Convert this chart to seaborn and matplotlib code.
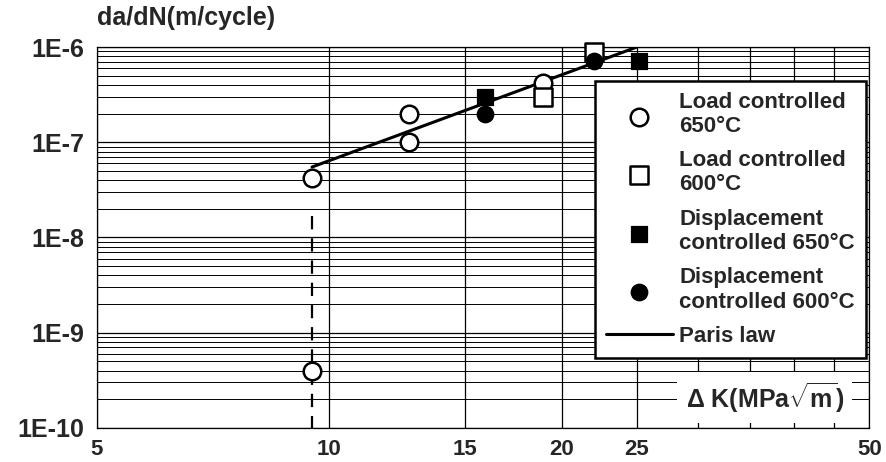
import pandas as pd
import seaborn as sns
import matplotlib.pyplot as plt
from matplotlib.ticker import FixedLocator, LogLocator, NullFormatter

# data
load650_dk = [9.5, 12.7, 12.7, 18.9, 9.5]
load650_dadn = [4.2e-8, 2.0e-7, 1.0e-7, 4.2e-7, 4.0e-10]
load600_dk = [18.9, 22.0]
load600_dadn = [3.0e-7, 8.8e-7]
disp650_dk = [15.9, 25.2]
disp650_dadn = [3.0e-7, 7.2e-7]
disp600_dk = [15.9, 22.0]
disp600_dadn = [2.0e-7, 7.2e-7]
paris_dk = [9.5, 25.0]
paris_dadn = [5.5e-8, 1.0e-6]
threshold_dk = [9.5, 9.5]
threshold_dadn = [1.7e-8, 1e-10]

x_ticks = [5, 10, 15, 20, 25, 30, 35, 40, 45, 50]
x_labels = ["5", "10", "15", "20", "25", "", "", "", "", "50"]
y_ticks = [1e-10, 1e-9, 1e-8, 1e-7, 1e-6]
y_labels = ["1E-10", "1E-9", "1E-8", "1E-7", "1E-6"]

sns.set_style("white")
plt.rcParams["font.family"] = ["Liberation Sans", "DejaVu Sans"]
plt.rcParams["font.weight"] = "bold"
plt.rcParams["mathtext.fontset"] = "custom"
plt.rcParams["mathtext.rm"] = "Liberation Sans:bold"
plt.rcParams["mathtext.bf"] = "Liberation Sans:bold"
plt.rcParams["mathtext.it"] = "Liberation Sans:bold"

fig = plt.figure(figsize=(8.87, 4.62), dpi=100)
ax = fig.add_axes([0.109, 0.074, 0.871, 0.824])
ax.set_xscale("log")
ax.set_yscale("log")

ax.plot(threshold_dk, threshold_dadn, color="black", lw=1.6, ls=(0, (6, 4)), zorder=3)
sns.lineplot(x=paris_dk, y=paris_dadn, ax=ax, color="black", lw=2.2, label="Paris law", zorder=4)
sns.scatterplot(x=load650_dk, y=load650_dadn, ax=ax, marker="o", s=160, facecolor="white",
                edgecolor="black", linewidth=1.8, label="Load controlled\n650°C", zorder=5,
                clip_on=False)
sns.scatterplot(x=load600_dk, y=load600_dadn, ax=ax, marker="s", s=160, facecolor="white",
                edgecolor="black", linewidth=1.8, label="Load controlled\n600°C", zorder=5,
                clip_on=False)
sns.scatterplot(x=disp650_dk, y=disp650_dadn, ax=ax, marker="s", s=120, color="black",
                edgecolor="black", label="Displacement\ncontrolled 650°C", zorder=6,
                clip_on=False)
sns.scatterplot(x=disp600_dk, y=disp600_dadn, ax=ax, marker="o", s=140, color="black",
                edgecolor="black", label="Displacement\ncontrolled 600°C", zorder=6,
                clip_on=False)

ax.set_xlim(5, 50)
ax.set_ylim(1e-10, 1e-6)
ax.xaxis.set_major_locator(FixedLocator(x_ticks))
ax.set_xticklabels(x_labels)
ax.xaxis.set_minor_locator(FixedLocator([]))
ax.set_yticks(y_ticks)
ax.set_yticklabels(y_labels)
ax.yaxis.set_minor_locator(LogLocator(base=10, subs=range(2, 10)))
ax.yaxis.set_minor_formatter(NullFormatter())
ax.grid(True, which="major", axis="both", color="black", lw=0.9)
ax.grid(True, which="minor", axis="y", color="black", lw=0.7)
ax.tick_params(axis="x", labelsize=16, length=0, pad=8)
ax.tick_params(axis="y", which="major", labelsize=18, length=5, width=1, color="black",
               direction="out", pad=4)
ax.tick_params(axis="y", which="minor", length=0)
for sp in ax.spines.values():
    sp.set_color("black")
    sp.set_linewidth(0.9)
ax.set_xlabel("")
ax.set_ylabel("")

ax.text(0.0, 1.045, "da/dN(m/cycle)", transform=ax.transAxes, fontsize=18,
        fontweight="bold", ha="left", va="bottom")
ax.text(0.865, 0.08, r"$\Delta$ K(MPa$\sqrt{\mathrm{m}}$)", transform=ax.transAxes, fontsize=18,
        fontweight="bold", ha="center", va="center",
        bbox=dict(facecolor="white", edgecolor="none", pad=6), zorder=7)

handles, labels = ax.get_legend_handles_labels()
order = [1, 2, 3, 4, 0]
leg = ax.legend([handles[i] for i in order], [labels[i] for i in order],
                loc="upper right", bbox_to_anchor=(0.996, 0.912), fontsize=16,
                frameon=True, fancybox=False, framealpha=1, edgecolor="black",
                handlelength=3.0, labelspacing=0.6, borderpad=0.5, handletextpad=0.3,
                borderaxespad=0)
leg.get_frame().set_linewidth(1.8)
leg.set_zorder(8)

fig.savefig("out.png", dpi=100)
